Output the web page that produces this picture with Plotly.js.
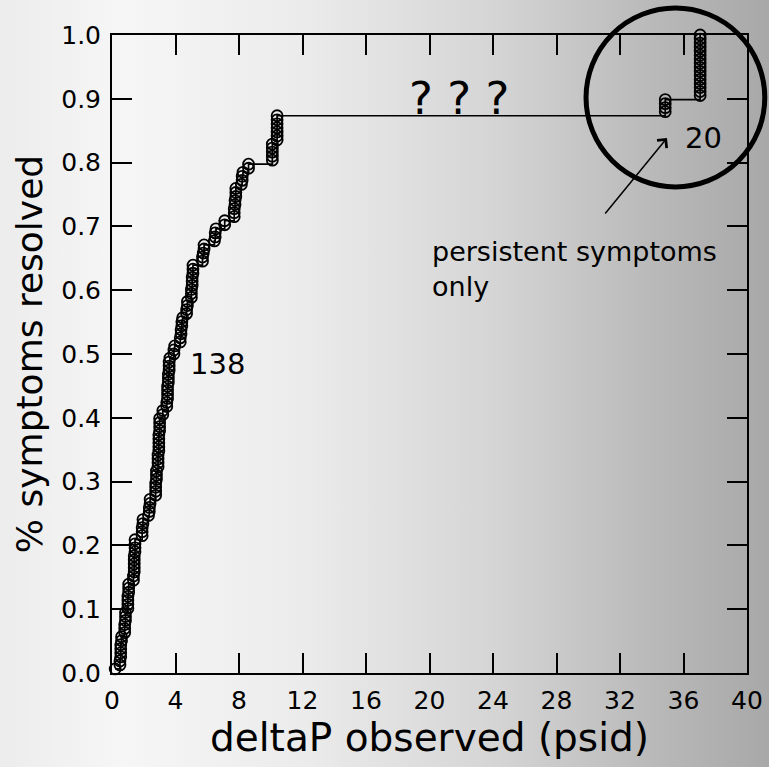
<!DOCTYPE html>
<html><head><meta charset="utf-8">
<script src="https://cdn.plot.ly/plotly-3.0.1.min.js"></script>
<style>
html,body{margin:0;padding:0;}
body{width:769px;height:767px;overflow:hidden;background:linear-gradient(to right,#ececec 0%,#f6f6f6 16%,#ebebeb 40%,#d4d4d4 65%,#b9b9b9 85%,#a8a8a8 100%);}
#chart{width:769px;height:767px;}
</style></head><body><div id="chart"></div>
<script>
// observed deltaP (psid) for each case, sorted ascending
const deltaP = [
  0.2,
  0.5,0.5,0.55,0.55,0.55,0.55,0.6,0.6,
  0.8,0.8,0.8,0.85,0.85,0.85,
  1.0,1.0,1.0,1.0,1.05,1.05,1.05,
  1.35,1.35,1.4,1.4,1.4,1.4,1.4,1.45,1.45,1.45,1.45,
  1.9,1.9,1.9,1.95,1.95,
  2.3,2.35,2.35,2.4,2.4,
  2.75,2.75,2.75,2.75,2.8,2.8,2.8,
  2.9,2.9,2.9,2.9,2.95,2.95,2.95,2.95,2.95,3.0,3.0,3.0,3.0,
  3.2,3.2,
  3.45,3.45,3.5,3.5,3.5,3.5,3.55,3.55,3.55,3.6,3.6,3.6,3.65,
  3.9,3.9,3.95,
  4.3,4.3,4.35,4.35,4.4,4.4,4.45,
  4.7,4.7,4.75,4.75,
  5.0,5.0,5.0,5.05,5.05,5.05,5.1,5.1,5.1,
  5.7,5.7,5.75,5.8,5.8,
  6.45,6.5,6.5,6.55,
  7.1,7.1,
  7.7,7.7,7.7,7.75,7.75,7.8,7.8,7.8,
  8.15,8.2,8.2,8.25,
  8.6,8.6,
  10.1,10.1,10.1,10.1,10.1,
  10.4,10.4,10.4,10.4,10.4,10.4,10.4,
  34.85,34.85,34.85,34.85,
  37.05,37.05,37.05,37.05,37.05,37.05,37.05,37.05,
  37.05,37.05,37.05,37.05,37.05,37.05,37.05,37.05
];
const totalCases = 158;
const xTickVals = [0,4,8,12,16,20,24,28,32,36,40];
const yTickVals = [0,0.1,0.2,0.3,0.4,0.5,0.6,0.7,0.8,0.9,1.0];
const xTitle = 'deltaP observed (psid)';
const yTitle = '% symptoms resolved';
const label138 = '138';
const label20 = '20';
const noteText = 'persistent symptoms<br>only';
const unknownText = '? ? ?';

// empirical cumulative fraction of cases resolved
const resolved = deltaP.map((v, i) => (i + 1) / totalCases);

const FONT = 'DejaVu Sans, Liberation Sans, Arial, sans-serif';

const trace = {
  x: deltaP, y: resolved, type: 'scatter', mode: 'lines+markers',
  line: {shape: 'hv', color: '#000', width: 1.7},
  marker: {symbol: 'circle-open', size: 11, color: '#000', line: {width: 1.8, color: '#000'}},
  hoverinfo: 'skip', cliponaxis: false
};

const axisCommon = {
  showgrid: false, zeroline: false, showline: true, linecolor: '#000', linewidth: 2,
  mirror: 'ticks', ticks: 'inside', ticklen: 20, tickwidth: 2, tickcolor: '#000',
  tickfont: {family: FONT, size: 25, color: '#000'}
};

const layout = {
  width: 769, height: 767,
  margin: {l: 112, r: 22, t: 35, b: 94},
  paper_bgcolor: 'rgba(0,0,0,0)', plot_bgcolor: 'rgba(0,0,0,0)',
  showlegend: false,
  font: {family: FONT, color: '#000'},
  xaxis: Object.assign({}, axisCommon, {
    range: [0, 40], tickvals: xTickVals, ticktext: xTickVals.map(String),
    ticklabelstandoff: 4,
    title: {text: xTitle, font: {family: FONT, size: 39, color: '#000'}, standoff: 4}
  }),
  yaxis: Object.assign({}, axisCommon, {
    range: [0, 1.0], tickvals: yTickVals, ticktext: yTickVals.map(v => v.toFixed(1)),
    ticklabelstandoff: 4,
    title: {text: yTitle, font: {family: FONT, size: 36, color: '#000'}, standoff: 8}
  }),
  shapes: [{
    type: 'circle', xref: 'paper', yref: 'paper',
    x0: 0.7465, x1: 1.028, y0: 0.7618, y1: 1.0423,
    line: {color: '#000', width: 5}
  }],
  annotations: [
    {x: 21.86, y: 0.873, xref: 'x', yref: 'y', text: unknownText, showarrow: false,
     yanchor: 'bottom', yshift: -11, font: {family: FONT, size: 45, color: '#000'}},
    {x: 6.65, y: 0.485, xref: 'x', yref: 'y', text: label138, showarrow: false,
     font: {family: FONT, size: 29, color: '#000'}},
    {x: 37.29, y: 0.839, xref: 'x', yref: 'y', text: label20, showarrow: false,
     font: {family: FONT, size: 29, color: '#000'}},
    {x: 20.05, y: 0.688, xref: 'x', yref: 'y', text: noteText, showarrow: false,
     xanchor: 'left', yanchor: 'top', align: 'left',
     font: {family: FONT, size: 27, color: '#000'}},
    {x: 34.96, y: 0.8386, xref: 'x', yref: 'y', text: '', showarrow: true,
     ax: -63, ay: 77, axref: 'pixel', ayref: 'pixel',
     arrowhead: 4, arrowsize: 1.6, arrowwidth: 1.5, arrowcolor: '#000', standoff: 0}
  ]
};

Plotly.newPlot('chart', [trace], layout, {staticPlot: true, displayModeBar: false});
</script>
</body></html>
